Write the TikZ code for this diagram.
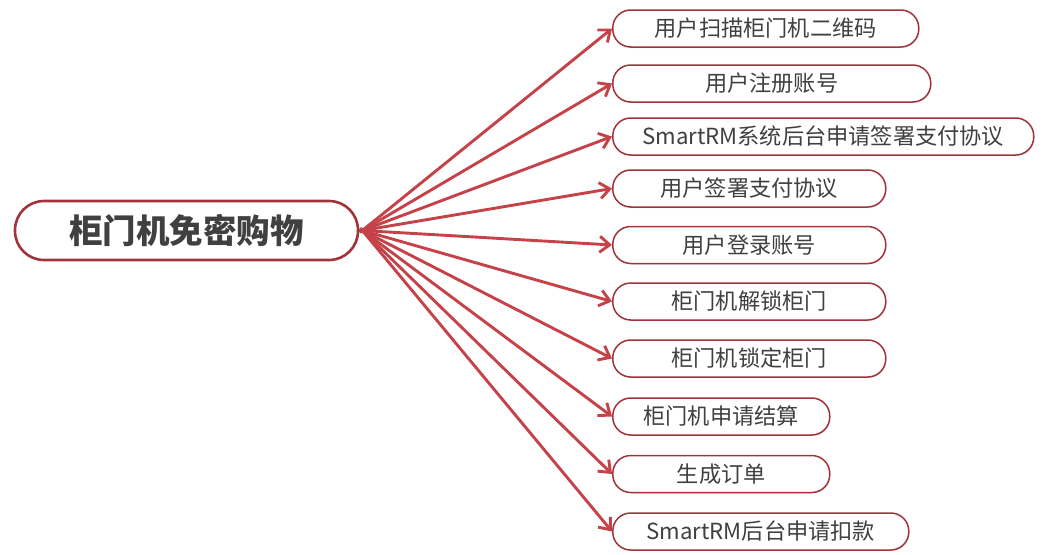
\documentclass[tikz,border=0pt]{standalone}
\usepackage{fontspec}
\setmainfont{Noto Sans CJK SC}
\usetikzlibrary{arrows.meta,shadows}
\definecolor{linkred}{RGB}{196,66,72}
\definecolor{boxred}{RGB}{160,52,58}
\definecolor{txtgray}{RGB}{64,64,64}
\tikzset{
  leaf/.style={draw=boxred, line width=1.5pt, fill=white, rounded corners=18pt,
    minimum height=37pt, inner sep=0pt, anchor=west, text=txtgray,
    font=\fontsize{22.2}{25}\selectfont,
    drop shadow={opacity=0.18, shadow xshift=0.8pt, shadow yshift=-1pt}},
  rootbox/.style={draw=boxred, line width=2.6pt, fill=white, rounded corners=29pt,
    minimum height=59pt, minimum width=343pt, inner sep=0pt, text=txtgray,
    font=\fontsize{33.5}{37}\selectfont\bfseries,
    drop shadow={opacity=0.2, shadow xshift=1pt, shadow yshift=-1.2pt}},
  link/.style={draw=linkred, line width=2.9pt, -{Straight Barb[length=10pt,width=16pt,line width=2.9pt]}, shorten <=-3pt}
}
\begin{document}
\begin{tikzpicture}[x=1pt,y=1pt]
\useasboundingbox (0,0) rectangle (1049,-554);
\node[rootbox] (root) at (186.5,-230.5) {柜门机免密购物};
\node[leaf, minimum width=306pt] (n1) at (612,-28.5) {用户扫描柜门机二维码};
\node[leaf, minimum width=318pt] (n2) at (612,-83.5) {用户注册账号};
\node[leaf, minimum width=421pt] (n3) at (612,-136.5) {SmartRM系统后台申请签署支付协议};
\node[leaf, minimum width=273pt] (n4) at (612,-188.5) {用户签署支付协议};
\node[leaf, minimum width=273pt] (n5) at (612,-245) {用户登录账号};
\node[leaf, minimum width=273pt] (n6) at (612,-301.5) {柜门机解锁柜门};
\node[leaf, minimum width=273pt] (n7) at (612,-358.5) {柜门机锁定柜门};
\node[leaf, minimum width=217pt] (n8) at (612,-416.5) {柜门机申请结算};
\node[leaf, minimum width=217pt] (n9) at (612,-474) {生成订单};
\node[leaf, minimum width=296pt] (n10) at (612,-531.5) {SmartRM后台申请扣款};
\coordinate (hub) at ([xshift=3pt]root.east);
\foreach \n in {n1,n2,n3,n4,n5,n6,n7,n8,n9,n10}
  \draw[link] (hub) -- (\n.west);
\end{tikzpicture}
\end{document}
